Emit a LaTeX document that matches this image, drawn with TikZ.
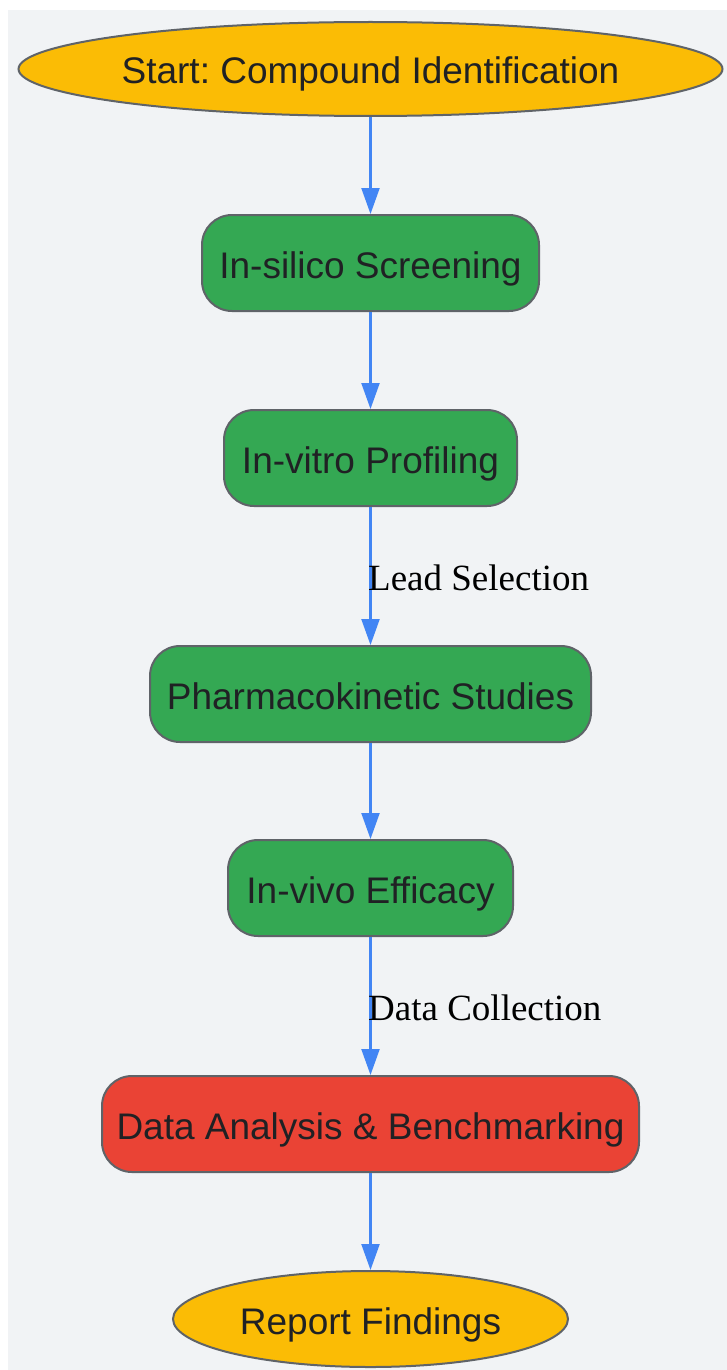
\documentclass[tikz,border=0pt]{standalone}
\usepackage{fontspec}
\setmainfont{Liberation Sans}
\newfontfamily\labelfont{Liberation Serif}
\usetikzlibrary{arrows.meta,shapes.geometric}
\frenchspacing
\definecolor{bgc}{HTML}{F1F3F5}
\definecolor{yel}{HTML}{FBBC05}
\definecolor{grn}{HTML}{34A853}
\definecolor{redc}{HTML}{EA4335}
\definecolor{bord}{HTML}{5F6368}
\definecolor{txt}{HTML}{202124}
\definecolor{arr}{HTML}{4285F4}
\tikzset{
  base/.style={draw=bord, line width=2pt, inner sep=0pt, text=txt,
    font=\fontsize{37}{44}\selectfont, text height=38pt, text depth=8pt},
  term/.style={base, ellipse, fill=yel},
  stepbox/.style={base, rectangle, rounded corners=30pt, fill=grn, minimum height=96pt},
  flow/.style={draw=arr, line width=2.2pt, -{Triangle[length=26pt,width=18pt]}},
  elabel/.style={font=\labelfont\fontsize{37}{44}\selectfont, text=black, inner sep=0pt, anchor=west}
}
\begin{document}
\begin{tikzpicture}[x=1pt,y=-1pt]
\useasboundingbox (0,0) rectangle (727,1370);
\fill[bgc] (8,10) rectangle (727,1370);
\node[term, minimum width=704pt, minimum height=94pt] (start) at (370.5,69) {\frenchspacing Start: Compound Identification};
\node[stepbox, minimum width=337pt] (silico) at (370.5,263) {In-silico Screening};
\node[stepbox, minimum width=293pt] (vitro) at (370.5,458) {In-vitro Profiling};
\node[stepbox, minimum width=441pt] (pk) at (370.5,694) {Pharmacokinetic Studies};
\node[stepbox, minimum width=285pt] (vivo) at (370.5,888) {In-vivo Efficacy};
\node[stepbox, minimum width=537pt, fill=redc] (data) at (370.5,1124) {Data Analysis \& Benchmarking};
\node[term, minimum width=395pt, minimum height=96pt] (report) at (370.5,1319) {Report Findings};
\draw[flow] (start) -- (silico);
\draw[flow] (silico) -- (vitro);
\draw[flow] (vitro) -- (pk);
\draw[flow] (pk) -- (vivo);
\draw[flow] (vivo) -- (data);
\draw[flow] (data) -- (report);
\node[elabel] (l1) at (368,578) {Lead Selection};
\node[elabel] (l2) at (368,1008) {Data Collection};
\end{tikzpicture}
\end{document}
